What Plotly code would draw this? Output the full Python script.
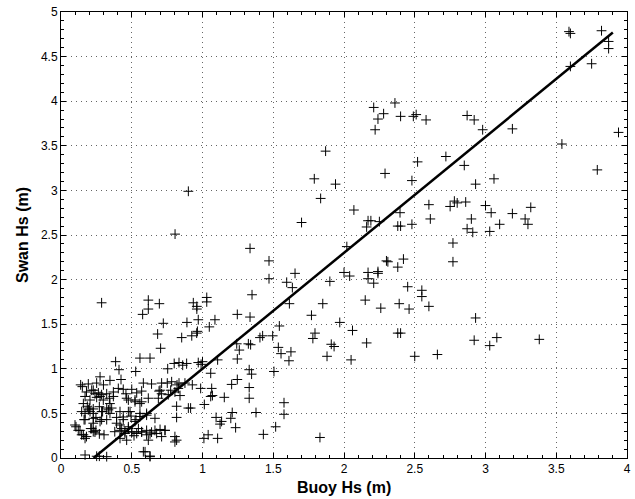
import plotly.graph_objects as go

# Buoy Hs (m) vs Swan Hs (m)
buoy_hs = [
    3.59, 3.60, 3.82, 3.87, 3.87, 3.75, 3.60,
    2.21, 2.36, 2.24, 2.28, 2.22, 2.40, 2.49, 2.51, 2.58, 2.87, 2.92, 2.98, 3.19, 3.94, 3.54,
    1.87, 2.72, 2.52, 2.85, 3.79, 2.29, 1.79, 1.94, 2.48, 3.06, 2.93, 1.835, 2.60, 2.75, 2.78,
    2.80, 2.86, 3.00, 3.32, 2.07,
    2.396, 2.17, 2.19, 2.25, 2.16, 2.38, 2.40, 2.48, 2.61, 2.87, 1.70, 2.02, 2.77, 2.30, 2.31,
    2.42, 2.38, 2.77, 2.00, 2.04, 2.17, 2.24, 2.24, 2.17, 2.21, 1.90, 2.45, 2.55, 2.55, 1.85,
    2.15, 2.39, 2.26, 2.46, 2.60, 1.77, 1.97, 2.06, 1.795, 1.78, 2.38, 2.40, 1.91, 1.93, 2.16,
    1.88, 2.50, 2.66, 2.05, 1.83,
    3.04, 3.19, 3.28, 3.30, 2.90, 2.91, 3.03, 3.10, 2.93, 2.92, 3.03, 3.08, 3.38,
    1.336, 1.47, 1.47, 1.654, 1.595, 1.635, 1.614, 1.35, 1.246, 1.336, 1.543, 1.03, 1.03, 0.935,
    0.96, 0.96, 0.97, 1.088, 0.89, 1.048, 0.964,
    0.806, 0.287, 0.617, 0.617, 0.577, 0.695, 0.723, 0.683, 0.90,
    0.853, 0.924, 0.959, 0.86, 0.888, 0.97, 1.00, 0.99, 1.107, 1.242, 1.324, 1.34, 1.26, 1.246,
    1.406, 1.425, 1.496, 1.536, 1.555, 1.625, 1.611, 1.058, 1.33, 1.347, 1.505, 0.928, 0.987,
    1.065, 1.07, 1.058, 1.206, 1.246, 1.33, 1.33, 1.154, 0.916, 1.013, 1.378, 1.576, 1.576, 1.21,
    1.20, 1.096, 1.124, 1.135, 1.234, 1.517, 1.43, 1.01, 1.04, 1.107,
    0.704, 0.386, 0.41, 0.558, 0.629, 0.528, 0.754, 0.80, 0.834, 0.276, 0.346, 0.424, 0.139,
    0.193, 0.252, 0.18, 0.17, 0.217, 0.24, 0.264, 0.287, 0.323, 0.342, 0.44, 0.459, 0.37, 0.535,
    0.57, 0.582, 0.476, 0.523, 0.558, 0.57, 0.617, 0.693, 0.711, 0.751, 0.782, 0.834, 0.876,
    0.688, 0.711, 0.758, 0.805, 0.829, 0.841, 0.817, 0.817, 0.90, 0.158, 0.186, 0.20, 0.146,
    0.17, 0.205, 0.228, 0.271, 0.294, 0.335, 0.358, 0.346, 0.163, 0.247, 0.287, 0.228, 0.393,
    0.44, 0.476, 0.495, 0.53, 0.558, 0.605, 0.664, 0.106, 0.134, 0.158, 0.18, 0.17, 0.21, 0.228,
    0.247, 0.271, 0.304, 0.417, 0.429, 0.452, 0.476, 0.50, 0.516, 0.547, 0.57, 0.605, 0.629,
    0.664, 0.70, 0.735, 0.711, 0.805, 0.817, 0.17, 0.252, 0.271, 0.323, 0.582, 0.629,
    0.151, 0.30, 0.405, 0.50, 0.64, 0.228, 0.276, 0.37, 0.205, 0.252, 0.299, 0.346, 0.464, 0.523,
    0.193, 0.228, 0.287, 0.323, 0.417, 0.488, 0.558, 0.605, 0.17, 0.228, 0.276, 0.323, 0.393,
    0.44, 0.476, 0.523, 0.099, 0.122, 0.146, 0.217, 0.24, 0.805, 0.38, 0.417, 0.452, 0.50, 0.535,
    0.57, 0.605, 0.64, 0.676, 0.735, 0.617, 0.464, 0.417, 0.594, 0.629, 0.70, 0.775, 0.82,
]
swan_hs = [
    4.78, 4.76, 4.79, 4.67, 4.59, 4.42, 4.39,
    3.93, 3.98, 3.80, 3.86, 3.68, 3.83, 3.83, 3.85, 3.79, 3.84, 3.79, 3.68, 3.69, 3.65, 3.52,
    3.44, 3.38, 3.32, 3.28, 3.23, 3.19, 3.13, 3.07, 3.11, 3.13, 3.07, 2.91, 2.84, 2.82, 2.88,
    2.86, 2.87, 2.83, 2.81, 2.78,
    2.75, 2.66, 2.66, 2.65, 2.59, 2.60, 2.60, 2.62, 2.68, 2.57, 2.64, 2.37, 2.41, 2.21, 2.20,
    2.23, 2.14, 2.20, 2.08, 2.04, 2.08, 2.09, 2.07, 2.01, 1.96, 1.98, 1.92, 1.88, 1.81, 1.73,
    1.77, 1.73, 1.68, 1.67, 1.70, 1.60, 1.52, 1.43, 1.40, 1.34, 1.40, 1.40, 1.275, 1.25, 1.29,
    1.14, 1.14, 1.16, 1.10, 0.23,
    2.75, 2.74, 2.68, 2.62, 2.68, 2.53, 2.54, 2.62, 1.57, 1.32, 1.26, 1.35, 1.33,
    2.35, 2.21, 2.01, 2.07, 1.97, 1.91, 1.73, 1.83, 1.61, 1.58, 1.48, 1.80, 1.75, 1.74,
    1.70, 1.67, 1.55, 1.55, 1.52, 1.47, 1.42,
    2.51, 1.74, 1.77, 1.67, 1.61, 1.73, 1.51, 1.39, 2.99,
    1.35, 1.37, 1.40, 1.04, 1.06, 1.07, 1.08, 1.05, 1.10, 1.28, 1.28, 1.27, 1.21, 1.11,
    1.35, 1.37, 1.37, 1.24, 1.17, 1.19, 1.09, 0.95, 0.99, 0.94, 0.97, 0.82, 0.78,
    0.78, 0.70, 0.69, 0.825, 0.88, 0.79, 0.67, 0.68, 0.56, 0.60, 0.51, 0.62, 0.49, 0.51,
    0.445, 0.455, 0.38, 0.41, 0.34, 0.35, 0.265, 0.22, 0.26, 0.22,
    1.23, 1.08, 0.99, 1.12, 1.12, 0.97, 1.00, 1.06, 1.07, 0.91, 0.87, 0.88, 0.82,
    0.83, 0.84, 0.74, 0.69, 0.76, 0.72, 0.73, 0.71, 0.72, 0.67, 0.77, 0.72, 0.69, 0.73,
    0.75, 0.84, 0.65, 0.63, 0.61, 0.63, 0.67, 0.75, 0.84, 0.84, 0.855, 0.84, 0.84,
    0.67, 0.72, 0.71, 0.74, 0.78, 0.70, 0.58, 0.455, 0.56, 0.61, 0.58, 0.56, 0.52,
    0.50, 0.52, 0.55, 0.575, 0.52, 0.54, 0.56, 0.50, 0.43, 0.455, 0.43, 0.39, 0.455,
    0.46, 0.52, 0.47, 0.43, 0.465, 0.50, 0.445, 0.35, 0.31, 0.26, 0.24, 0.22, 0.33, 0.295,
    0.31, 0.27, 0.26, 0.37, 0.33, 0.295, 0.33, 0.295, 0.25, 0.33, 0.295, 0.31, 0.27,
    0.31, 0.32, 0.31, 0.24, 0.24, 0.20, 0.034, 0.02, 0.02, 0.015, 0.07, 0.015,
    0.80, 0.82, 0.78, 0.77, 0.83, 0.76, 0.69, 0.74, 0.65, 0.68, 0.65, 0.61, 0.67, 0.65,
    0.54, 0.50, 0.52, 0.56, 0.52, 0.52, 0.50, 0.48, 0.43, 0.445, 0.41, 0.43, 0.39,
    0.43, 0.35, 0.41, 0.37, 0.31, 0.26, 0.33, 0.29, 0.18, 0.295, 0.31, 0.275, 0.29, 0.275,
    0.29, 0.26, 0.29, 0.275, 0.31, 0.20, 0.20, 0.22, 0.07, 0.022, 0.76, 0.76, 0.82,
]

# Fitted line end points
fit_x = [0.23, 3.90]
fit_y = [0.0, 4.77]

x_ticks = [0, 0.5, 1, 1.5, 2, 2.5, 3, 3.5, 4]
x_tick_labels = ["0", "0.5", "1", "1.5", "2", "2.5", "3", "3.5", "4"]
y_ticks = [0, 0.5, 1, 1.5, 2, 2.5, 3, 3.5, 4, 4.5, 5]
y_tick_labels = ["0", "0.5", "1", "1.5", "2", "2.5", "3", "3.5", "4", "4.5", "5"]

x_title = "Buoy Hs (m)"
y_title = "Swan Hs (m)"

FONT = "Liberation Sans, Arial, Helvetica, sans-serif"

fig = go.Figure()
fig.add_trace(go.Scatter(
    x=buoy_hs, y=swan_hs, mode="markers",
    marker=dict(symbol="cross-thin", size=7, line=dict(color="black", width=1), color="black"),
    showlegend=False, cliponaxis=False, hoverinfo="skip",
))
fig.add_trace(go.Scatter(
    x=fit_x, y=fit_y, mode="lines",
    line=dict(color="black", width=2.5),
    showlegend=False, hoverinfo="skip",
))

axis_common = dict(
    showline=True, linecolor="black", linewidth=1, mirror="allticks",
    ticks="inside", ticklen=5, tickcolor="black", tickwidth=1,
    showgrid=True, gridcolor="#666666", gridwidth=1, griddash="1px,4px",
    zeroline=False, automargin=False,
    tickfont=dict(family=FONT, size=12, color="black"),
    minor=dict(ticks="inside", ticklen=3, tickcolor="black", dtick=0.1, showgrid=False),
)

fig.update_xaxes(range=[0, 4], tickvals=x_ticks, ticktext=x_tick_labels, **axis_common)
fig.update_yaxes(range=[0, 5], tickvals=y_ticks, ticktext=y_tick_labels, **axis_common)

fig.add_annotation(
    text="<b>" + x_title + "</b>", xref="paper", yref="paper", x=0.5, y=0,
    xanchor="center", yanchor="middle", yshift=-29, showarrow=False,
    font=dict(family=FONT, size=16, color="black"),
)
fig.add_annotation(
    text="<b>" + y_title + "</b>", xref="paper", yref="paper", x=0, y=0.5,
    xanchor="center", yanchor="middle", xshift=-39, textangle=-90, showarrow=False,
    font=dict(family=FONT, size=16, color="black"),
)

fig.update_layout(
    width=635, height=499,
    margin=dict(l=61, r=8, t=12, b=41),
    paper_bgcolor="white", plot_bgcolor="white",
    font=dict(family=FONT, color="black"),
)

fig.write_html(
    "out.html",
    config={"displayModeBar": False, "staticPlot": True},
    post_script="document.body.style.margin='0';document.body.style.padding='0';",
)
